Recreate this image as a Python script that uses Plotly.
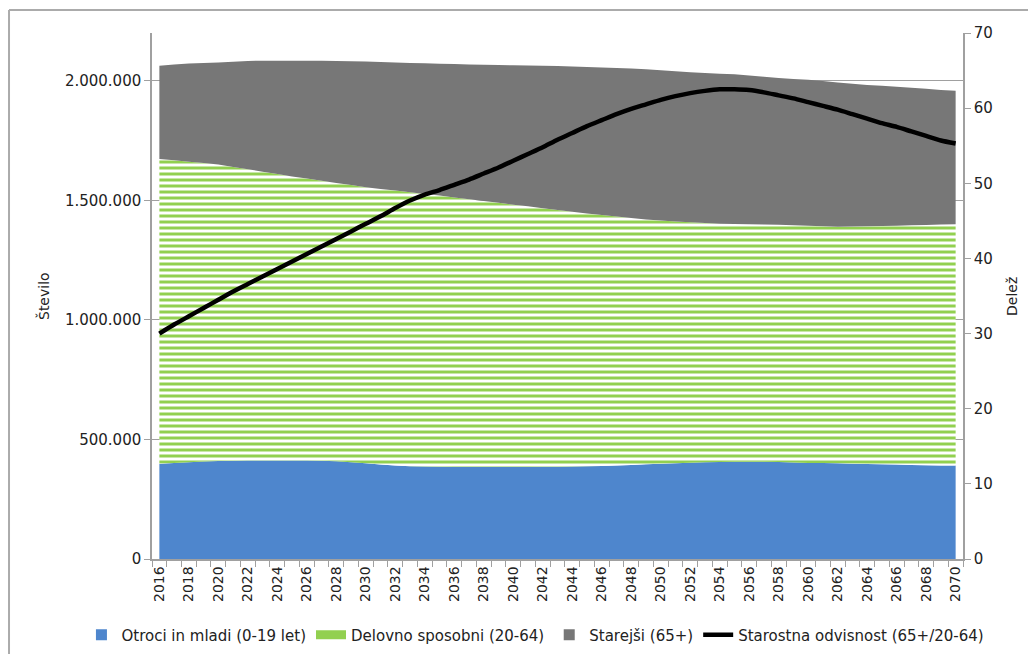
import plotly.graph_objects as go

years = list(range(2016, 2071))

otroci = [398, 402, 405, 408, 410, 411, 412, 412, 412, 412, 412, 411, 409, 405, 400,
          395, 391, 388, 387, 386, 385, 385, 385, 385, 385, 385, 386, 386, 387, 388,
          389, 391, 393, 396, 398, 400, 403, 405, 406, 407, 407, 407, 406, 404, 402,
          401, 400, 398, 397, 396, 395, 393, 392, 391, 391]

delovno = [1275, 1266, 1257, 1248, 1240, 1229, 1218, 1208, 1198, 1188, 1179, 1171, 1164, 1159, 1155,
           1153, 1150, 1146, 1140, 1134, 1127, 1120, 1112, 1105, 1097, 1090, 1081, 1074, 1065, 1057,
           1050, 1042, 1033, 1024, 1018, 1012, 1005, 1000, 996, 994, 993, 992, 992, 992, 992,
           991, 990, 993, 995, 997, 999, 1003, 1005, 1008, 1009]

starejsi = [390, 400, 410, 419, 427, 440, 453, 464, 474, 484, 493, 502, 510, 518, 526,
            531, 536, 541, 546, 551, 558, 563, 570, 576, 583, 589, 596, 602, 608, 613,
            617, 621, 625, 628, 628, 628, 628, 628, 628, 626, 622, 618, 614, 612, 610,
            607, 603, 597, 591, 586, 581, 575, 570, 563, 558]

odvisnost = [30.0, 31.2, 32.3, 33.4, 34.5, 35.6, 36.6, 37.6, 38.6, 39.6, 40.6, 41.6, 42.6, 43.6, 44.6,
             45.6, 46.7, 47.7, 48.5, 49.1, 49.8, 50.5, 51.3, 52.1, 53.0, 53.9, 54.8, 55.8, 56.7, 57.6,
             58.4, 59.2, 59.9, 60.5, 61.1, 61.6, 62.0, 62.3, 62.5, 62.5, 62.4, 62.1, 61.7, 61.3, 60.8,
             60.3, 59.8, 59.2, 58.6, 58.0, 57.5, 56.9, 56.3, 55.7, 55.3]

left_ticks = [0, 500000, 1000000, 1500000, 2000000]
left_labels = ["0", "500.000", "1.000.000", "1.500.000", "2.000.000"]
x_tick_years = list(range(2016, 2071, 2))

names = ["Otroci in mladi (0-19 let)", "Delovno sposobni (20-64)", "Starejši (65+)",
         "Starostna odvisnost (65+/20-64)"]

BLUE = "#4E86CD"
GREEN = "#92D050"
GRAY = "#777777"
AX = "#A0A0A0"
FONT = "DejaVu Sans"
TXT = "#222222"

fig = go.Figure()

fig.add_trace(go.Scatter(x=years, y=[v * 1000 for v in otroci], stackgroup="one", mode="none",
                         fillcolor=BLUE, name=names[0], showlegend=False))
fig.add_trace(go.Scatter(x=years, y=[v * 1000 for v in delovno], stackgroup="one", mode="none",
                         fillcolor=GREEN, name=names[1], showlegend=False,
                         fillpattern=dict(shape="-", fgcolor=GREEN, fgopacity=1, bgcolor="white",
                                          size=6, solidity=0.5, fillmode="replace")))
fig.add_trace(go.Scatter(x=years, y=[v * 1000 for v in starejsi], stackgroup="one", mode="none",
                         fillcolor=GRAY, name=names[2], showlegend=False))
fig.add_trace(go.Scatter(x=years, y=odvisnost, yaxis="y2", mode="lines",
                         line=dict(color="black", width=4.5, shape="spline", smoothing=0.6),
                         name=names[3], showlegend=False))

# legend entries
fig.add_trace(go.Scatter(x=[None], y=[None], mode="markers", name=names[0],
                         marker=dict(symbol="square", size=11, color=BLUE)))
fig.add_trace(go.Scatter(x=[None], y=[None], mode="lines", name=names[1],
                         line=dict(color=GREEN, width=9)))
fig.add_trace(go.Scatter(x=[None], y=[None], mode="markers", name=names[2],
                         marker=dict(symbol="square", size=11, color=GRAY)))
fig.add_trace(go.Scatter(x=[None], y=[None], mode="lines", name=names[3],
                         line=dict(color="black", width=4.5)))

fig.update_layout(
    width=1020, height=646,
    margin=dict(l=144, r=65, t=25, b=95, autoexpand=False),
    paper_bgcolor="white", plot_bgcolor="white",
    font=dict(family=FONT, size=15, color=TXT),
    xaxis=dict(range=[2015.5, 2070.5], tickvals=x_tick_years, ticktext=[str(y) for y in x_tick_years],
               tickangle=-90, ticks="", showline=True, linecolor=AX, linewidth=1.5,
               tickfont=dict(size=14),
               showgrid=False, zeroline=False,
               minor=dict(tick0=2015.5, dtick=1, ticks="outside", ticklen=6, tickcolor=AX,
                          showgrid=False)),
    yaxis=dict(range=[0, 2200000], tickvals=left_ticks, ticktext=left_labels,
               ticks="outside", ticklen=6, tickcolor=AX, showline=True, linecolor=AX, linewidth=1.5,
               showgrid=True, gridcolor=AX, gridwidth=1, zeroline=False),
    yaxis2=dict(range=[0, 70], dtick=10, overlaying="y", side="right",
                ticks="outside", ticklen=6, tickcolor=AX, showline=True, linecolor=AX, linewidth=1.5,
                showgrid=False, zeroline=False),
    legend=dict(orientation="h", x=-0.087, xanchor="left",
                y=-0.1445, yanchor="middle",
                font=dict(family=FONT, size=15), traceorder="normal"),
    annotations=[
        dict(text="Število", xref="paper", yref="paper", x=-0.1344, y=0.5, textangle=-90,
             xanchor="center", yanchor="middle", showarrow=False, font=dict(family=FONT, size=14)),
        dict(text="Delež", xref="paper", yref="paper", x=1.0604, y=0.5, textangle=-90,
             xanchor="center", yanchor="middle", showarrow=False, font=dict(family=FONT, size=14)),
    ],
    shapes=[
        dict(type="line", xref="paper", yref="paper", x0=-0.1763, x1=-0.1763, y0=1.0437, y1=-0.25,
             line=dict(color="#ABABAB", width=2)),
        dict(type="line", xref="paper", yref="paper", x0=-0.1763, x1=1.12, y0=1.0437, y1=1.0437,
             line=dict(color="#ABABAB", width=2)),
    ],
)

fig.write_html("out.html")
